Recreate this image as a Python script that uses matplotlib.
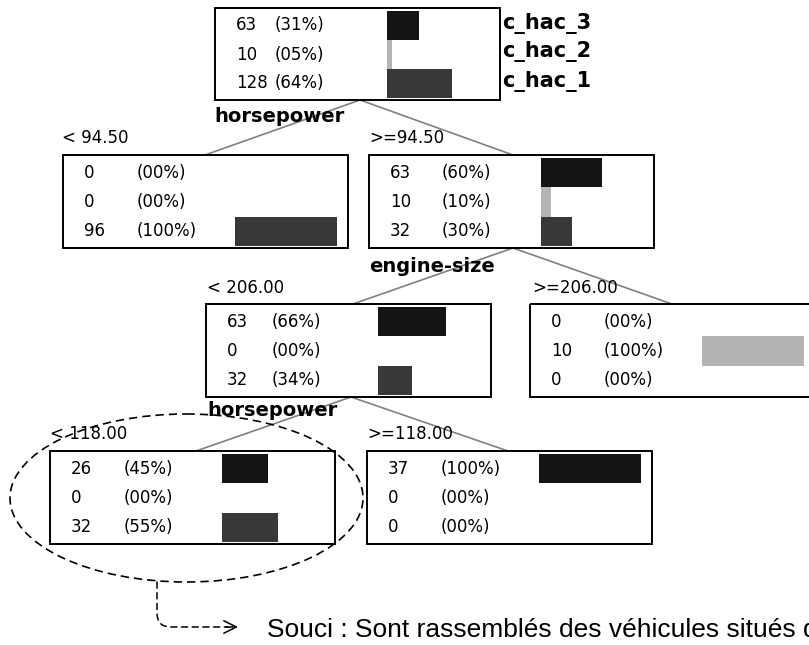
import matplotlib.pyplot as plt
from matplotlib.patches import Rectangle, Ellipse

# class labels and bar colours
classes = ['c_hac_3', 'c_hac_2', 'c_hac_1']
class_colors = ['#141414', '#b4b4b4', '#383838']

# counts per node (order: c_hac_3, c_hac_2, c_hac_1)
root_counts = [63, 10, 128]
hp1_low = [0, 0, 96]
hp1_high = [63, 10, 32]
es_low = [63, 0, 32]
es_high = [0, 10, 0]
hp2_low = [26, 0, 32]
hp2_high = [37, 0, 0]

# split variables and thresholds
split_vars = ['horsepower', 'engine-size', 'horsepower']
split_labels = ['< 94.50', '>=94.50', '< 206.00', '>=206.00', '< 118.00', '>=118.00']

note = 'Souci : Sont rassemblés des véhicules situés dans des groupes différents'

fig = plt.figure(figsize=(8.09, 6.45), dpi=100)
ax = fig.add_axes([0, 0, 1, 1])
ax.set_xlim(0, 809)
ax.set_ylim(645, 0)
ax.axis('off')

FONT = 'DejaVu Sans'
FS = 12


def draw_node(counts, x, y, w=285, h=93, pct_off=72):
    ax.add_patch(Rectangle((x, y), w, h, fill=False, ec='black', lw=1.4, zorder=3))
    total = sum(counts)
    band = (h - 5) / 3.0
    for i, c in enumerate(counts):
        p = 100.0 * c / total
        yc = y + 3 + band * (i + 0.5)
        ax.text(x + 21, yc, str(c), fontsize=FS, family=FONT, va='center', ha='left')
        ax.text(x + pct_off, yc, '(%02d%%)' % round(p), fontsize=FS, family=FONT,
                va='center', ha='left')
        if c > 0:
            ax.add_patch(Rectangle((x + 172, y + 3 + band * i), max(p * 1.02, 3), band,
                                   fc=class_colors[i], ec='none', zorder=2))


def link(x0, y0, x1, y1):
    ax.plot([x0, x1], [y0, y1], color='#808080', lw=1.2, zorder=1)


# nodes
draw_node(root_counts, 215, 8, h=92, pct_off=60)
draw_node(hp1_low, 63, 155, pct_off=74)
draw_node(hp1_high, 369, 155, pct_off=73)
draw_node(es_low, 206, 304, pct_off=66)
draw_node(es_high, 530, 304, w=300, pct_off=74)
draw_node(hp2_low, 50, 451, pct_off=74)
draw_node(hp2_high, 367, 451, pct_off=74)

# class names next to root
for i, name in enumerate(classes):
    ax.text(502, 23 + i * 29, name, fontsize=15, family=FONT, weight='bold', va='center')

# links
link(360, 100, 205, 155)
link(360, 100, 513, 155)
link(513, 248, 353, 304)
link(513, 248, 672, 304)
link(351, 397, 196, 451)
link(351, 397, 508, 451)

# split variables
ax.text(214, 117, split_vars[0], fontsize=14, family=FONT, weight='bold', va='center')
ax.text(369, 267, split_vars[1], fontsize=14, family=FONT, weight='bold', va='center')
ax.text(207, 411, split_vars[2], fontsize=14, family=FONT, weight='bold', va='center')

# split thresholds
lab_pos = [(62, 138), (369, 138), (207, 288), (532, 288), (50, 434), (367, 434)]
for (lx, ly), s in zip(lab_pos, split_labels):
    ax.text(lx, ly, s, fontsize=FS, family=FONT, va='center', ha='left')

# dashed ellipse around the problem node
ax.add_patch(Ellipse((186.5, 498), 353, 168, fill=False, ec='black', lw=1.2,
                     ls=(0, (5, 3)), zorder=4))

# dashed arrow to the comment (dashed shaft + solid open head)
ax.annotate('', xy=(228, 627), xytext=(157, 582),
            arrowprops=dict(arrowstyle='-', ls=(0, (4, 3)), lw=1.1, color='black',
                            shrinkA=0, shrinkB=0,
                            connectionstyle='angle,angleA=90,angleB=0,rad=14'))
ax.annotate('', xy=(238, 627), xytext=(226, 627),
            arrowprops=dict(arrowstyle='->,head_length=0.9,head_width=0.45',
                            lw=1.1, color='black', shrinkA=0, shrinkB=0))
ax.text(267, 637, note, fontsize=19, family='Liberation Sans', va='baseline', ha='left')

fig.savefig('out.png', dpi=100)
